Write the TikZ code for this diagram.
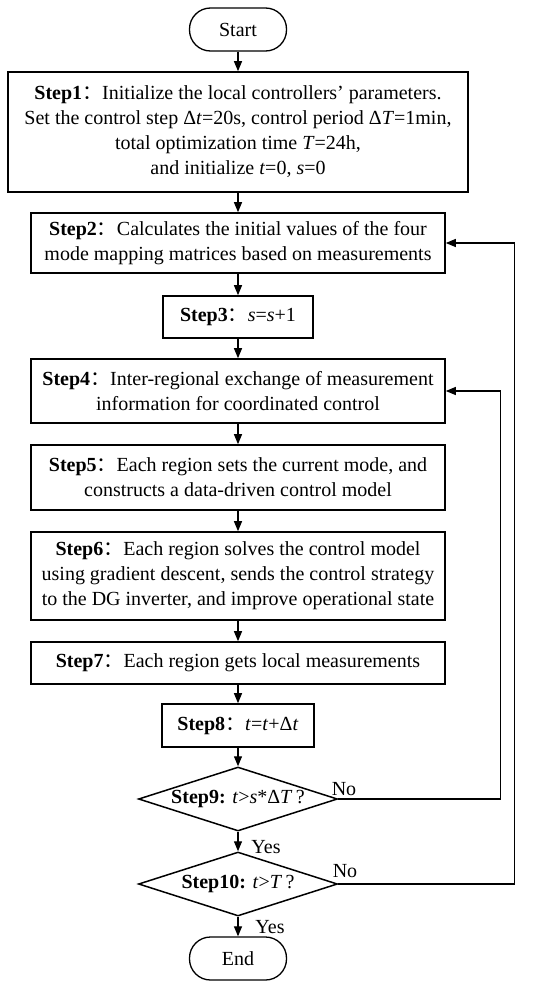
\documentclass[tikz,border=0pt]{standalone}
\usepackage{fontspec}
\setmainfont{Liberation Serif}
\newfontfamily\cjk{Noto Sans CJK SC}
\usetikzlibrary{shapes.geometric,arrows.meta}
\newcommand{\stp}[1]{\textbf{Step#1}{\cjk ：}}
\begin{document}
\begin{tikzpicture}[x=1pt,y=-1pt,
  every node/.style={font=\fontsize{20}{25}\selectfont},
  box/.style={draw,line width=1.6pt,align=center,inner sep=0pt,minimum width=414pt},
  term/.style={draw,line width=1.3pt,rounded corners=21pt,minimum width=97pt,minimum height=43pt,inner sep=0pt},
  dia/.style={draw,diamond,aspect=3.1,line width=1.5pt,inner sep=0pt,minimum width=199pt,minimum height=64pt},
  arr/.style={line width=1.2pt,-{Triangle[length=10pt,width=8pt]}},
  lbl/.style={inner sep=0pt}
]
\useasboundingbox (0,0) rectangle (550,988);
\node[term] (start) at (238,29.5) {Start};
\node[box,minimum width=460pt,minimum height=120pt] (s1) at (238,132)
  {\stp{1}Initialize the local controllers’ parameters.\\
   Set the control step Δ\textit{t}=20s, control period Δ\textit{T}=1min,\\
   total optimization time \textit{T}=24h,\\
   and initialize \textit{t}=0, \textit{s}=0};
\node[box,minimum height=60pt] (s2) at (238,243)
  {\stp{2}Calculates the initial values of the four\\
   mode mapping matrices based on measurements};
\node[box,minimum width=150pt,minimum height=42pt] (s3) at (238,317)
  {\stp{3}\textit{s}=\textit{s}+1};
\node[box,minimum height=64pt] (s4) at (238,391)
  {\stp{4}Inter-regional exchange of measurement\\
   information for coordinated control};
\node[box,minimum height=65pt] (s5) at (238,477.5)
  {\stp{5}Each region sets the current mode, and\\
   constructs a data-driven control model};
\node[box,minimum height=88pt] (s6) at (238,576)
  {\stp{6}Each region solves the control model\\
   using gradient descent, sends the control strategy\\
   to the DG inverter, and improve operational state};
\node[box,minimum height=42pt] (s7) at (238,663)
  {\stp{7}Each region gets local measurements};
\node[box,minimum width=152pt,minimum height=43pt] (s8) at (238,725.5)
  {\stp{8}\textit{t}=\textit{t}+Δ\textit{t}};
\node[dia] (d9) at (238,799) {\textbf{Step9:} \textit{t}>\textit{s}*Δ\textit{T}\,?};
\node[dia] (d10) at (238,884) {\textbf{Step10:} \textit{t}>\textit{T}\,?};
\node[term] (end) at (238,958.5) {End};

\draw[arr] (start) -- (s1);
\draw[arr] (s1) -- (s2);
\draw[arr] (s2) -- (s3);
\draw[arr] (s3) -- (s4);
\draw[arr] (s4) -- (s5);
\draw[arr] (s5) -- (s6);
\draw[arr] (s6) -- (s7);
\draw[arr] (s7) -- (s8);
\draw[arr] (s8) -- (d9);
\draw[arr] (d9) -- (d10);
\draw[arr] (d10) -- (end);
\draw[arr] (d9.east) -- ++(162,0) |- (s4.east);
\draw[arr] (d10.east) -- ++(176,0) |- (s2.east);

\node[lbl] (no1) at (344,789) {No};
\node[lbl] (no2) at (345,871) {No};
\node[lbl] (yes1) at (266,847) {Yes};
\node[lbl] (yes2) at (270,927) {Yes};
\end{tikzpicture}
\end{document}
